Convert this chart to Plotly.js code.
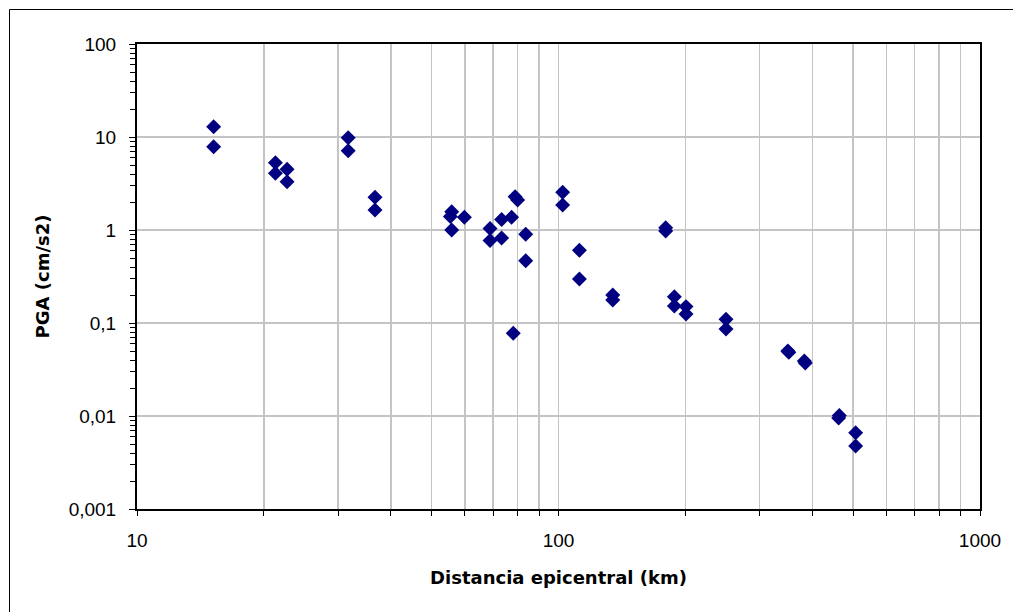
<!DOCTYPE html>
<html>
<head>
<meta charset="utf-8">
<script src="https://cdn.plot.ly/plotly-3.0.1.min.js"></script>
<style>
html, body { margin: 0; padding: 0; background: #fff; }
#chart { width: 1013px; height: 612px; }
</style>
</head>
<body>
<div id="chart"></div>
<script>
// Epicentral distance (km)
const distance = [15.2, 15.2, 21.3, 21.3, 22.7, 22.7, 31.7, 31.7, 36.7, 36.7,
  55.8, 55.4, 59.8, 55.8, 68.8, 68.8, 73.3, 73.3, 77.4, 78.9, 80.0, 83.6, 83.6, 78.1,
  102.3, 102.3, 112.1, 112.1, 134.5, 134.5, 179.6, 179.6, 188.3, 188.3, 200.7, 200.7,
  249.7, 249.7, 352, 350, 383, 385, 463.7, 462, 507, 507];
// PGA (cm/s2)
const pga = [12.9, 7.87, 5.29, 4.07, 4.49, 3.31, 9.83, 7.12, 2.25, 1.64,
  1.57, 1.40, 1.37, 1.0, 1.04, 0.77, 1.30, 0.82, 1.37, 2.28, 2.10, 0.90, 0.468, 0.0775,
  2.54, 1.86, 0.605, 0.297, 0.200, 0.177, 1.06, 0.975, 0.192, 0.152, 0.150, 0.125,
  0.110, 0.0861, 0.0484, 0.050, 0.039, 0.0372, 0.0101, 0.0095, 0.0066, 0.00475];

const xTickVals = [10, 100, 1000];
const xTickText = ['10', '100', '1000'];
const xMinorVals = [20, 30, 40, 50, 60, 70, 80, 90, 200, 300, 400, 500, 600, 700, 800, 900];
const yTickVals = [0.001, 0.01, 0.1, 1, 10, 100];
const yTickText = ['0,001', '0,01', '0,1', '1', '10', '100'];
const yMinorVals = [];
[0.001, 0.01, 0.1, 1, 10].forEach(d => { for (let k = 2; k <= 9; k++) yMinorVals.push(+(d * k).toPrecision(3)); });

const trace = {
  x: distance, y: pga, type: 'scatter', mode: 'markers',
  marker: { symbol: 'diamond', size: 11.5, color: '#000080' },
  hoverinfo: 'x+y'
};

const tickFont = { family: 'Liberation Sans, Arial, sans-serif', size: 19, color: '#000' };
const titleFont = { family: 'DejaVu Sans, sans-serif', size: 18, color: '#000', weight: 'bold' };

const layout = {
  width: 1013, height: 612,
  margin: { l: 137, r: 33, t: 44, b: 103 },
  paper_bgcolor: '#fff', plot_bgcolor: '#fff',
  showlegend: false,
  xaxis: {
    type: 'log', range: [1, 3],
    tickvals: xTickVals, ticktext: xTickText,
    ticks: 'outside', ticklen: 5, tickcolor: '#000', tickwidth: 1,
    ticklabelstandoff: 8,
    showgrid: true, gridcolor: '#c4c4c4', gridwidth: 1.5,
    minor: { tickvals: xMinorVals, ticks: 'outside', ticklen: 5, tickcolor: '#000', tickwidth: 1,
             showgrid: true, gridcolor: '#c4c4c4', gridwidth: 1.5 },
    showline: true, linecolor: '#000', linewidth: 2, mirror: true,
    zeroline: false,
    tickfont: tickFont,
    title: { text: 'Distancia epicentral (km)', font: titleFont, standoff: 22 }
  },
  yaxis: {
    type: 'log', range: [-3, 2],
    tickvals: yTickVals, ticktext: yTickText,
    ticks: 'outside', ticklen: 6, tickcolor: '#000', tickwidth: 1,
    ticklabelstandoff: 9,
    showgrid: true, gridcolor: '#c4c4c4', gridwidth: 1.5,
    minor: { tickvals: yMinorVals, ticks: 'outside', ticklen: 5, tickcolor: '#000', tickwidth: 1, showgrid: false },
    showline: true, linecolor: '#000', linewidth: 2, mirror: true,
    zeroline: false,
    tickfont: tickFont,
    title: { text: 'PGA (cm/s2)', font: titleFont, standoff: 14 }
  },
  shapes: [{
    type: 'rect', xref: 'paper', yref: 'paper',
    x0: (9.5 - 137) / 843, x1: (1030 - 137) / 843,
    y0: (509 - 640) / 465, y1: (509 - 9.5) / 465,
    line: { color: '#000', width: 1 }, fillcolor: 'rgba(0,0,0,0)', layer: 'below'
  }]
};

Plotly.newPlot('chart', [trace], layout, { staticPlot: true, displayModeBar: false });
</script>
</body>
</html>
